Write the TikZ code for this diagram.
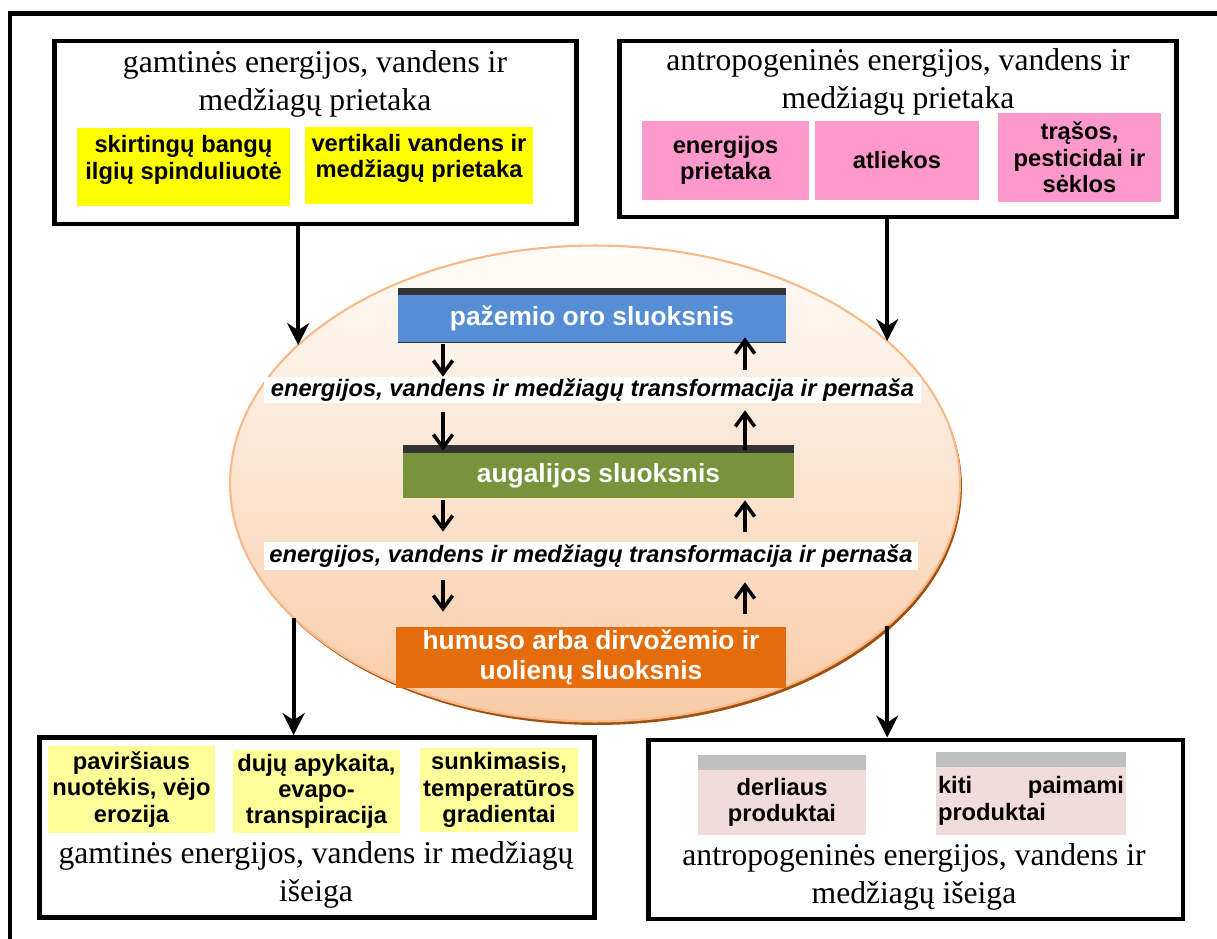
\documentclass[tikz,border=0pt]{standalone}
\usepackage{fontspec}
\setmainfont{Liberation Serif}
\setsansfont{Liberation Sans}
\usetikzlibrary{arrows.meta,shapes.geometric,shadows}

\definecolor{airblue}{HTML}{558ED5}
\definecolor{plantgreen}{HTML}{77933C}
\definecolor{soilorange}{HTML}{E46C0A}
\definecolor{stripgray}{HTML}{333333}
\definecolor{natyellow}{HTML}{FFFF00}
\definecolor{outyellow}{HTML}{FFFF99}
\definecolor{antpink}{HTML}{FF99CC}
\definecolor{prodpink}{HTML}{F2DCDB}
\definecolor{prodgray}{HTML}{BFBFBF}
\definecolor{ecotop}{HTML}{FFFCF9}
\definecolor{ecobottom}{HTML}{F9CBA6}
\definecolor{ecoline}{HTML}{F8B888}
\definecolor{ecoshadow}{HTML}{A0500F}

\newcommand{\titlesize}{\fontsize{18}{21.5}\selectfont}
\newcommand{\tagsize}{\fontsize{13.5}{15}\selectfont}
\newcommand{\layersize}{\fontsize{15}{17}\selectfont}

\begin{document}
\begin{tikzpicture}[
  x=0.02cm, y=-0.02cm,
  frame/.style={line width=2.8pt},
  outbox/.style={draw, line width=2.8pt, inner sep=0pt},
  heading/.style={font=\titlesize, align=center, inner sep=0pt},
  tag/.style={font=\sffamily\bfseries\tagsize, align=center, inner sep=0pt},
  layer/.style={font=\sffamily\bfseries\layersize, text=white, align=center, inner sep=0pt},
  flow/.style={fill=white, font=\sffamily\bfseries\itshape\tagsize, inner sep=0pt},
  ecoshape/.style={ellipse, draw=ecoline, line width=1.2pt, top color=ecotop, bottom color=ecobottom,
    inner sep=0pt, outer sep=0pt,
    drop shadow={shadow xshift=0.04cm, shadow yshift=-0.07cm, fill=ecoshadow, opacity=1}},
  bigarrow/.style={-{Stealth[length=12.5pt, width=12.5pt, inset=4pt]}, line width=2.3pt},
  smallarrow/.style={-{Straight Barb[length=7.5pt, width=11pt]}, line width=2pt}
]

\useasboundingbox (0,0) rectangle (1217,939);
\draw[frame] (10,960) -- (10,13.5) -- (1240,13.5);

\node[outbox, minimum width=10.46cm, minimum height=3.66cm] (natin) at (315.5,132.5) {};
\node[heading] (natinhead) at (315,84) {gamtinės energijos, vandens ir\\medžiagų prietaka};
\node[tag, fill=natyellow, text depth=11pt, minimum width=4.26cm, minimum height=1.56cm] (rad) at (183.5,167) {skirtingų bangų\\ilgių spinduliuotė};
\node[tag, fill=natyellow, text depth=11pt, minimum width=4.56cm, minimum height=1.54cm] (vert) at (419,165.5) {vertikali vandens ir\\medžiagų prietaka};

\node[outbox, minimum width=11.16cm, minimum height=3.52cm] (antin) at (898,129) {};
\node[heading] (antinhead) at (898,82) {antropogeninės energijos, vandens ir\\medžiagų prietaka};
\node[tag, fill=antpink, minimum width=3.34cm, minimum height=1.58cm] (enin) at (725.5,160.5) {energijos\\prietaka};
\node[tag, fill=antpink, minimum width=3.28cm, minimum height=1.58cm] (waste) at (897,160.5) {atliekos};
\node[tag, fill=antpink, minimum width=3.26cm, minimum height=1.78cm] (fert) at (1079.5,157.5) {trąšos,\\pesticidai ir\\sėklos};

\node[ecoshape, minimum width=14.6cm, minimum height=9.52cm] (eco) at (595,483.5) {};

\node[layer, fill=airblue, minimum width=7.76cm, minimum height=0.94cm] (air) at (592,318.5) {pažemio oro sluoksnis};
\fill[stripgray] (air.north west) rectangle ([yshift=0.14cm]air.north east);
\draw[stripgray, line width=0.8pt] (air.south west) -- (air.south east);
\node[flow, minimum width=13.14cm, minimum height=0.52cm] (tr1) at (592.5,390) {energijos, vandens ir medžiagų transformacija ir pernaša};
\node[layer, fill=plantgreen, minimum width=7.82cm, minimum height=0.9cm] (plant) at (598.5,475.5) {augalijos sluoksnis};
\fill[stripgray] (plant.north west) rectangle ([yshift=0.16cm]plant.north east);
\node[flow, minimum width=13.08cm, minimum height=0.56cm] (tr2) at (591,556) {energijos, vandens ir medžiagų transformacija ir pernaša};
\node[layer, fill=soilorange, minimum width=7.8cm, minimum height=1.22cm] (soil) at (591,657.5) {humuso arba dirvožemio ir\\uolienų sluoksnis};

\coordinate (lx) at (443,0);
\coordinate (rx) at (745,0);
\draw[smallarrow, shorten <=0.04cm] (air.south -| lx) -- (tr1.north -| lx);
\draw[smallarrow, shorten <=0.14cm, shorten >=-0.1cm] (tr1.north -| rx) -- (air.south -| rx);
\draw[smallarrow, shorten <=0.18cm, shorten >=0.04cm] (tr1.south -| lx) -- (plant.north -| lx);
\draw[smallarrow, shorten <=0.06cm, shorten >=0.14cm] (plant.north -| rx) -- (tr1.south -| rx);
\draw[smallarrow, shorten <=0.04cm, shorten >=0.2cm] (plant.south -| lx) -- (tr2.north -| lx);
\draw[smallarrow, shorten <=0.2cm, shorten >=0.04cm] (tr2.north -| rx) -- (plant.south -| rx);
\draw[smallarrow, shorten <=0.2cm, shorten >=0.3cm] (tr2.south -| lx) -- (soil.north -| lx);
\draw[smallarrow, shorten <=0.26cm, shorten >=0.24cm] (soil.north -| rx) -- (tr2.south -| rx);

\node[outbox, minimum width=11.11cm, minimum height=3.6cm] (natout) at (316.75,827.5) {};
\node[tag, fill=outyellow, minimum width=3.34cm, minimum height=1.74cm] (runoff) at (131.5,789.5) {paviršiaus\\nuotėkis, vėjo\\erozija};
\node[tag, fill=outyellow, minimum width=3.34cm, minimum height=1.66cm] (gas) at (316.5,791.5) {dujų apykaita,\\evapo-\\transpiracija};
\node[tag, fill=outyellow, minimum width=3.16cm, minimum height=1.68cm] (leach) at (499,790) {sunkimasis,\\temperatūros\\gradientai};
\node[heading] (natouthead) at (316,875) {gamtinės energijos, vandens ir medžiagų\\išeiga};

\node[outbox, minimum width=10.7cm, minimum height=3.58cm] (antout) at (915.5,829.5) {};
\node[tag, fill=prodpink, minimum width=3.36cm, minimum height=1.3cm] (harvest) at (782,802.5) {derliaus\\produktai};
\fill[prodgray] (harvest.north west) rectangle ([yshift=0.3cm]harvest.north east);
\node[tag, fill=prodpink, align=left, text width=3.72cm, minimum width=3.8cm, minimum height=1.36cm] (other) at (1031,801) {kiti\hfill paimami\\produktai};
\fill[prodgray] (other.north west) rectangle ([yshift=0.3cm]other.north east);
\node[heading] (antouthead) at (914,877) {antropogeninės energijos, vandens ir\\medžiagų išeiga};

\draw[bigarrow] (natin.south -| eco.155) -- (eco.155);
\draw[bigarrow] (antin.south -| eco.26) -- (eco.26);
\draw[bigarrow] (eco.204) -- (eco.204 |- natout.north);
\draw[bigarrow] (eco.334) -- (eco.334 |- antout.north);

\end{tikzpicture}
\end{document}
